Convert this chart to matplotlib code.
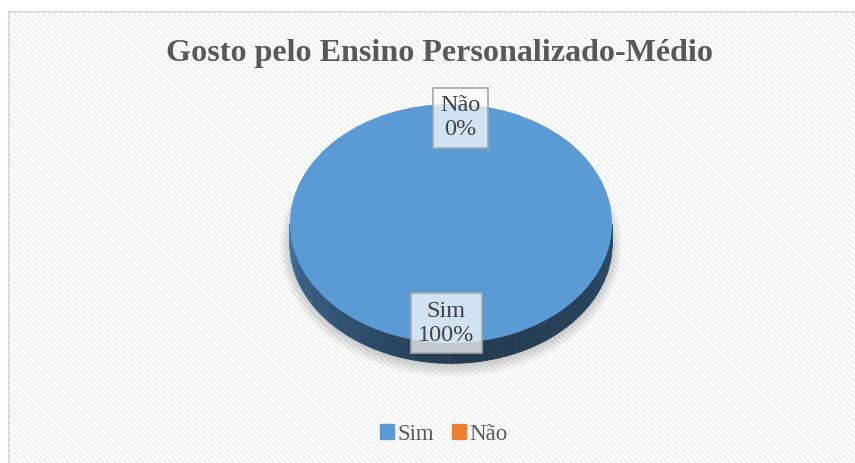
import numpy as np
import matplotlib.pyplot as plt
from matplotlib.collections import LineCollection, PolyCollection
from matplotlib.patches import Rectangle, Ellipse
from matplotlib.colors import to_rgb

# chart data
categories = ['Sim', 'Não']
values = [100, 0]
colors = ['#5b9bd5', '#ed7d31']
title = 'Gosto pelo Ensino Personalizado-Médio'

W, H = 855, 463
fig = plt.figure(figsize=(W / 100, H / 100), dpi=100)

# ---- background: border + diagonal stripes ----
bg = fig.add_axes([0, 0, 1, 1])
bg.set_xlim(0, W)
bg.set_ylim(H, 0)
bg.axis('off')
frame = Rectangle((9, 12), W, H, facecolor='white', edgecolor='#d9d9d9', lw=1.5)
bg.add_patch(frame)
offs = np.arange(-W, H, 5.7)
stripes = LineCollection([[(0, c), (W, c + W)] for c in offs],
                         colors='#f0f0f0', linewidths=1.3)
bg.add_collection(stripes)
stripes.set_clip_path(frame)

# ---- pie (elliptical, with depth) ----
ax = fig.add_axes([290 / W, 1 - 343 / H, 322 / W, 239 / H])
depth = 0.17

# soft shadow
for k in range(8):
    ax.add_patch(Ellipse((0, -depth - 0.015), 2.0 + 0.018 * k, 2.0 + 0.03 * k,
                         facecolor='black', alpha=0.025, lw=0, clip_on=False))

# side of the cylinder, per wedge, only the front half
total = float(sum(values))
start = 90.0
for val, col in zip(values, colors):
    span = 360.0 * val / total
    th = np.radians(np.linspace(start, start - span, 400))
    start -= span
    th = th[np.sin(th) < 0.001]
    if len(th) < 2:
        continue
    th = np.sort(np.mod(th, 2 * np.pi))
    quads, fcs = [], []
    base = np.array(to_rgb(col))
    for a, b in zip(th[:-1], th[1:]):
        xa, ya, xb, yb = np.cos(a), np.sin(a), np.cos(b), np.sin(b)
        quads.append([(xa, ya), (xb, yb), (xb, yb - depth), (xa, ya - depth)])
        t = (a - np.pi) / np.pi
        f = np.interp(t, [0, 0.12, 0.5, 0.8, 1], [0.82, 0.62, 0.38, 0.42, 0.5])
        fcs.append(np.clip(base * f, 0, 1))
    pc = PolyCollection(quads, facecolors=fcs, edgecolors=fcs, linewidths=0.6)
    pc.set_clip_on(False)
    ax.add_collection(pc)

wedges, _ = ax.pie(values, colors=colors, startangle=90, counterclock=False,
                   radius=1, wedgeprops=dict(linewidth=0))
for w in wedges:
    w.set_clip_on(False)
ax.set_aspect('auto')
ax.set_xlim(-1, 1)
ax.set_ylim(-1, 1)
ax.axis('off')

# data labels (small horizontal nudges like the original)
nudge = [-0.03, 0.06]
start = 90.0
for cat, val, dx in zip(categories, values, nudge):
    span = 360.0 * val / total
    mid = np.radians(start - span / 2)
    start -= span
    r = 0.86
    ax.text(r * np.cos(mid) + dx, r * np.sin(mid) + 0.025, '{}\n{:.0f}%'.format(cat, 100 * val / total),
            ha='center', va='center', fontsize=17.5, family='Liberation Serif',
            color='#404040', linespacing=1.2,
            bbox=dict(boxstyle='square,pad=0.3', fc=(1, 1, 1, 0.72), ec='#a6a6a6', lw=1.2))

# title
fig.text(439.5 / W, 1 - 54 / H, title, ha='center', va='center', fontsize=23.1,
         fontweight='bold', family='Liberation Serif', color='#595959')

# legend
handles = [Rectangle((0, 0), 1, 1, color=c) for c in colors]
fig.legend(handles, categories, loc='center', bbox_to_anchor=(444 / W, 1 - 434 / H),
           ncol=2, frameon=False, handlelength=0.6, handleheight=0.6,
           handletextpad=0.15, columnspacing=0.8,
           prop={'family': 'Liberation Serif', 'size': 16.5}, labelcolor='#595959')

fig.savefig('out.png', dpi=100)
